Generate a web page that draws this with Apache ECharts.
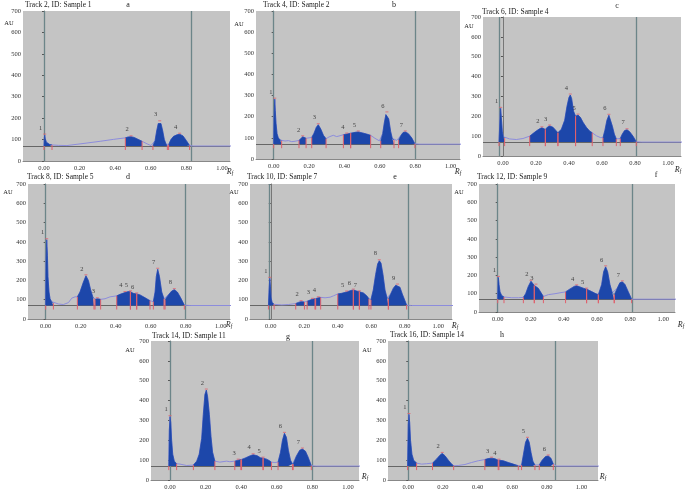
<!DOCTYPE html>
<html><head><meta charset="utf-8">
<script src="https://cdn.jsdelivr.net/npm/echarts@6/dist/echarts.min.js"></script>
<style>html,body{margin:0;padding:0;background:#fff}#c{width:688px;height:493px}</style>
</head><body><div id="c"></div>
<script>
// ---------- DATA ----------
const rfTicks = [0, 0.2, 0.4, 0.6, 0.8, 1.0];
const titles = ['Track 2, ID: Sample 1','Track 4, ID: Sample 2','Track 6, ID: Sample 4','Track 8, ID: Sample 5','Track 10, ID: Sample 7','Track 12, ID: Sample 9','Track 14, ID: Sample 11','Track 16, ID: Sample 14'];
const letters = ['a','b','c','d','e','f','g','h'];
const baselineAU = 70;

const profA = [[0,70],[0.002,110],[0.004,121],[0.007,105],[0.013,88],[0.022,80],[0.032,77],[0.045,75],[0.082,73],[0.129,72],[0.185,78],[0.242,84],[0.316,92],[0.391,101],[0.457,108],[0.472,112],[0.489,113],[0.506,110],[0.524,103],[0.551,92],[0.579,80],[0.601,72],[0.612,72],[0.624,95],[0.633,140],[0.642,175],[0.65,183],[0.657,175],[0.667,140],[0.676,100],[0.685,80],[0.693,72],[0.7,76],[0.713,100],[0.728,115],[0.747,122],[0.762,125],[0.781,117],[0.8,95],[0.818,72],[0.841,70],[1.1,70]];
const peaksA = [[0,0.045],[0.457,0.551],[0.612,0.693],[0.7,0.818]];
const labelsA = [[0.004,121,'1'],[0.489,113,'2'],[0.65,183,'3'],[0.762,125,'4']];
const markersA = [0, 0.826];

const profB = [[0,70],[0.002,200],[0.006,283],[0.009,230],[0.013,170],[0.019,120],[0.026,100],[0.036,90],[0.045,86],[0.064,85],[0.083,87],[0.102,82],[0.121,84],[0.143,88],[0.153,95],[0.164,105],[0.173,102],[0.183,98],[0.2,100],[0.215,102],[0.228,122],[0.241,150],[0.252,162],[0.266,142],[0.281,112],[0.296,96],[0.314,105],[0.337,112],[0.356,106],[0.375,110],[0.394,115],[0.413,118],[0.435,122],[0.46,126],[0.478,128],[0.503,123],[0.525,118],[0.548,112],[0.572,98],[0.597,86],[0.605,86],[0.616,120],[0.625,170],[0.634,210],[0.64,218],[0.65,190],[0.661,130],[0.67,98],[0.68,90],[0.695,88],[0.706,90],[0.718,110],[0.731,125],[0.744,128],[0.761,120],[0.78,100],[0.798,72],[0.827,70],[1.1,70]];
const peaksB = [[0,0.045],[0.143,0.183],[0.215,0.296],[0.394,0.435],[0.435,0.548],[0.605,0.68],[0.706,0.798]];
const labelsB = [[0.006,283,'1'],[0.164,105,'2'],[0.252,162,'3'],[0.413,118,'4'],[0.478,128,'5'],[0.64,218,'6'],[0.744,128,'7']];
const markersB = [0, 0.804];

const profC = [[-0.024,70],[-0.02,150],[-0.016,225],[-0.014,240],[-0.01,195],[-0.004,125],[0.002,97],[0.01,90],[0.04,86],[0.081,83],[0.121,88],[0.162,100],[0.182,113],[0.202,126],[0.222,137],[0.236,142],[0.257,134],[0.269,145],[0.283,151],[0.303,145],[0.319,130],[0.333,117],[0.354,135],[0.374,180],[0.388,250],[0.4,295],[0.408,307],[0.416,290],[0.428,225],[0.44,200],[0.455,206],[0.469,195],[0.485,170],[0.505,145],[0.525,126],[0.541,117],[0.566,102],[0.59,93],[0.606,92],[0.618,130],[0.63,180],[0.642,205],[0.651,200],[0.663,150],[0.675,110],[0.687,86],[0.699,84],[0.711,88],[0.723,110],[0.737,128],[0.752,132],[0.768,122],[0.788,100],[0.808,72],[0.838,70],[1.1,70]];
const peaksC = [[-0.024,0.01],[0.162,0.257],[0.257,0.333],[0.333,0.44],[0.44,0.541],[0.606,0.687],[0.711,0.808]];
const labelsC = [[-0.014,240,'1'],[0.236,142,'2'],[0.283,151,'3'],[0.408,307,'4'],[0.455,206,'5'],[0.642,205,'6'],[0.752,132,'7']];
const markersC = [-0.02, 0.814];

const profD = [[0,70],[0.002,300],[0.006,411],[0.01,330],[0.013,220],[0.019,140],[0.025,105],[0.034,90],[0.044,82],[0.072,78],[0.101,75],[0.13,85],[0.149,108],[0.168,115],[0.181,115],[0.196,140],[0.215,190],[0.23,224],[0.244,200],[0.257,150],[0.269,115],[0.276,105],[0.282,102],[0.295,105],[0.314,102],[0.339,105],[0.368,115],[0.406,120],[0.425,128],[0.453,137],[0.472,142],[0.484,141],[0.5,133],[0.52,130],[0.539,125],[0.568,110],[0.596,95],[0.615,90],[0.625,140],[0.632,220],[0.64,258],[0.65,220],[0.663,140],[0.676,105],[0.682,100],[0.701,125],[0.72,145],[0.735,152],[0.752,140],[0.771,110],[0.792,72],[0.825,70],[1.1,70]];
const peaksD = [[0,0.044],[0.181,0.276],[0.282,0.314],[0.406,0.484],[0.484,0.52],[0.52,0.596],[0.615,0.676],[0.682,0.792]];
const labelsD = [[0.006,411,'1'],[0.23,224,'2'],[0.295,105,'3'],[0.453,137,'4'],[0.484,141,'5'],[0.52,130,'6'],[0.64,258,'7'],[0.735,152,'8']];
const markersD = [0, 0.796];

const profE = [[-0.014,70],[-0.01,150],[-0.006,211],[-0.002,170],[0.002,110],[0.008,85],[0.02,76],[0.066,73],[0.105,75],[0.149,80],[0.165,86],[0.181,90],[0.201,88],[0.217,92],[0.235,98],[0.249,102],[0.264,105],[0.268,105],[0.284,110],[0.298,112],[0.324,110],[0.354,113],[0.374,120],[0.4,130],[0.423,133],[0.453,140],[0.479,148],[0.493,150],[0.513,145],[0.529,141],[0.553,135],[0.573,120],[0.586,105],[0.598,100],[0.612,150],[0.626,230],[0.638,285],[0.648,302],[0.658,290],[0.67,230],[0.682,150],[0.694,110],[0.702,105],[0.716,130],[0.732,160],[0.746,175],[0.757,176],[0.771,165],[0.785,130],[0.801,95],[0.811,72],[0.841,70],[1.1,70]];
const peaksE = [[-0.014,0.02],[0.149,0.201],[0.217,0.264],[0.268,0.298],[0.4,0.493],[0.493,0.529],[0.529,0.586],[0.598,0.702],[0.702,0.811]];
const labelsE = [[-0.006,211,'1'],[0.181,90,'2'],[0.249,102,'3'],[0.284,110,'4'],[0.453,140,'5'],[0.493,150,'6'],[0.529,141,'7'],[0.648,302,'8'],[0.757,176,'9']];
const markersE = [-0.014, 0.817];

const profF = [[0,70],[0.002,160],[0.004,189],[0.008,150],[0.014,110],[0.024,90],[0.038,82],[0.085,78],[0.125,78],[0.155,80],[0.169,100],[0.185,140],[0.201,168],[0.211,165],[0.221,145],[0.231,147],[0.245,130],[0.262,105],[0.276,85],[0.306,95],[0.346,100],[0.376,105],[0.41,110],[0.435,125],[0.462,140],[0.477,143],[0.497,137],[0.517,130],[0.537,125],[0.567,112],[0.588,102],[0.608,95],[0.628,150],[0.64,220],[0.652,247],[0.664,220],[0.678,150],[0.692,105],[0.704,95],[0.722,130],[0.738,160],[0.753,165],[0.769,150],[0.789,110],[0.809,70],[1.1,70]];
const peaksF = [[0,0.038],[0.155,0.221],[0.221,0.276],[0.41,0.537],[0.537,0.608],[0.608,0.704],[0.704,0.809]];
const labelsF = [[0.004,189,'1'],[0.201,168,'2'],[0.231,147,'3'],[0.477,143,'4'],[0.537,125,'5'],[0.652,247,'6'],[0.753,165,'7']];
const markersF = [0, 0.809];

const profG = [[-0.007,70],[-0.004,250],[0,319],[0.004,290],[0.009,200],[0.015,130],[0.024,95],[0.037,82],[0.056,80],[0.093,73],[0.131,75],[0.15,95],[0.164,130],[0.178,210],[0.187,330],[0.196,430],[0.204,453],[0.211,420],[0.221,330],[0.23,220],[0.239,140],[0.252,95],[0.28,90],[0.318,95],[0.336,92],[0.364,95],[0.383,100],[0.398,103],[0.402,103],[0.421,110],[0.445,120],[0.467,127],[0.49,122],[0.508,112],[0.523,110],[0.542,105],[0.557,98],[0.57,90],[0.589,88],[0.607,90],[0.621,140],[0.632,200],[0.643,235],[0.654,215],[0.665,150],[0.677,100],[0.688,80],[0.692,80],[0.71,120],[0.729,150],[0.744,156],[0.761,145],[0.776,115],[0.794,72],[0.822,70],[1.1,70]];
const peaksG = [[-0.007,0.037],[0.131,0.252],[0.364,0.398],[0.402,0.523],[0.523,0.57],[0.607,0.688],[0.692,0.794]];
const labelsG = [[0,319,'1'],[0.204,453,'2'],[0.383,100,'3'],[0.467,127,'4'],[0.523,110,'5'],[0.643,235,'6'],[0.744,156,'7']];
const markersG = [-0.004, 0.798];

const profH = [[-0.004,70],[0,280],[0.004,330],[0.008,290],[0.013,200],[0.021,130],[0.031,100],[0.038,90],[0.048,85],[0.077,80],[0.106,82],[0.14,85],[0.163,105],[0.183,125],[0.196,134],[0.212,122],[0.231,100],[0.25,80],[0.262,72],[0.288,73],[0.327,78],[0.365,88],[0.404,97],[0.442,103],[0.462,108],[0.481,110],[0.5,107],[0.519,100],[0.523,100],[0.548,97],[0.577,88],[0.606,80],[0.635,72],[0.654,75],[0.665,130],[0.677,190],[0.688,210],[0.698,190],[0.708,140],[0.719,95],[0.731,75],[0.756,76],[0.773,100],[0.792,118],[0.808,121],[0.823,110],[0.837,80],[0.856,70],[1.1,70]];
const peaksH = [[-0.004,0.048],[0.14,0.262],[0.442,0.519],[0.523,0.635],[0.654,0.731],[0.756,0.837]];
const labelsH = [[0.004,330,'1'],[0.196,134,'2'],[0.481,110,'3'],[0.523,100,'4'],[0.688,210,'5'],[0.808,121,'6']];
const markersH = [-0.004, 0.846];

// ---------- LAYOUT ----------
const layout = [
  {left:23, top:11, width:207, height:150, xmin:-0.118, xmax:1.045, title:[25,5], letter:[128,5], au:[9,23], rf:[230,172]},
  {left:256, top:11, width:204, height:148, xmin:-0.1, xmax:1.053, title:[263,5], letter:[394,5], au:[239,24], rf:[458,172]},
  {left:483, top:17, width:198, height:139, xmin:-0.121, xmax:1.079, title:[482,12], letter:[617,6], au:[469,26], rf:[678,170]},
  {left:28, top:184, width:202, height:135, xmin:-0.101, xmax:1.053, title:[27,177], letter:[128,177], au:[8,192], rf:[229,325]},
  {left:250, top:184, width:202, height:135, xmin:-0.124, xmax:1.082, title:[247,177], letter:[395,177], au:[234,192], rf:[455,326]},
  {left:479, top:184, width:196, height:128, xmin:-0.113, xmax:1.071, title:[477,177], letter:[656,175], au:[459,192], rf:[681,325]},
  {left:151, top:341, width:208, height:139, xmin:-0.107, xmax:1.062, title:[152,336], letter:[288,337], au:[130,350], rf:[365,477]},
  {left:388, top:341, width:210, height:139, xmin:-0.117, xmax:1.095, title:[390,335], letter:[502,335], au:[367,350], rf:[603,477]}
];
const panels = [
  [profA,peaksA,labelsA,markersA],[profB,peaksB,labelsB,markersB],[profC,peaksC,labelsC,markersC],[profD,peaksD,labelsD,markersD],
  [profE,peaksE,labelsE,markersE],[profF,peaksF,labelsF,markersF],[profG,peaksG,labelsG,markersG],[profH,peaksH,labelsH,markersH]
];

const SERIF = '"Liberation Serif", "DejaVu Serif", serif';
const FILL = '#1d47aa';
const RED = '#e0606c';

function yAt(prof, x) {
  for (const p of prof) if (Math.abs(p[0] - x) < 1e-9) return p[1];
  return baselineAU;
}
function fillData(prof, peaks) {
  const out = [];
  peaks.forEach((pk, k) => {
    if (k > 0) out.push([pk[0], '-']);
    prof.forEach(p => { if (p[0] >= pk[0] - 1e-9 && p[0] <= pk[1] + 1e-9) out.push(p); });
  });
  return out;
}

const grid = [], xAxis = [], yAxis = [], series = [], graphic = [];
panels.forEach((pn, i) => {
  const [prof, peaks, labels, markers] = pn;
  const L = layout[i];
  grid.push({left:L.left, top:L.top, width:L.width, height:L.height, show:true, backgroundColor:'#c4c4c4', borderWidth:0, containLabel:false});
  xAxis.push({type:'value', gridIndex:i, min:L.xmin, max:L.xmax,
    splitLine:{show:false},
    axisLine:{show:true, onZero:false, lineStyle:{color:'#888', width:1}},
    axisTick:{show:false},
    axisLabel:{customValues:rfTicks, formatter:v=>v.toFixed(2), fontSize:6.5, fontFamily:SERIF, color:'#333', margin:4}
  });
  yAxis.push({type:'value', gridIndex:i, min:0, max:700, interval:100,
    splitLine:{show:false},
    axisLine:{show:true, lineStyle:{color:'#777', width:1}},
    axisTick:{show:true, length:2, lineStyle:{color:'#555'}},
    axisLabel:{fontSize:6.5, fontFamily:SERIF, color:'#333', margin:2}
  });
  series.push({type:'line', xAxisIndex:i, yAxisIndex:i, data:prof, showSymbol:false, symbol:'none',
    lineStyle:{color:'#8c8cdc', width:1}, z:3, silent:true,
    markLine:{silent:true, symbol:'none', label:{show:false}, z:2,
      data:[
        {yAxis:baselineAU, lineStyle:{color:'#666', width:1, type:'solid'}},
        {xAxis:markers[0], lineStyle:{color:'#6c8589', width:1.3, type:'solid'}},
        {xAxis:markers[1], lineStyle:{color:'#6c8589', width:1.3, type:'solid'}}
      ]}
  });
  series.push({type:'line', xAxisIndex:i, yAxisIndex:i, data:fillData(prof, peaks), showSymbol:false, symbol:'none',
    connectNulls:false, lineStyle:{color:FILL, width:0.6}, areaStyle:{color:FILL, opacity:1, origin:baselineAU}, z:4, silent:true});
  const bounds = [];
  peaks.forEach(pk => { bounds.push([pk[0], yAt(prof, pk[0])]); bounds.push([pk[1], yAt(prof, pk[1])]); });
  series.push({type:'custom', xAxisIndex:i, yAxisIndex:i, data:bounds, z:5, silent:true,
    renderItem:(params, api) => {
      const x = api.value(0), y = api.value(1);
      const p0 = api.coord([x, baselineAU]);
      const p1 = api.coord([x, y]);
      return {type:'line', shape:{x1:p0[0], y1:p0[1]+4, x2:p1[0], y2:p1[1]}, style:{stroke:RED, lineWidth:1}};
    }
  });
  series.push({type:'scatter', xAxisIndex:i, yAxisIndex:i, data:labels, z:6, silent:true,
    symbol:'rect', symbolSize:[3,1], itemStyle:{color:RED}, symbolOffset:[0,-1],
    label:{show:true, position:'top', distance:2, offset:[-4,0], formatter:p=>p.data[2], fontSize:6.5, fontFamily:SERIF, color:'#222'}
  });
  graphic.push({type:'text', x:L.title[0], y:L.title[1], style:{text:titles[i], font:'7.5px ' + SERIF, fill:'#222', textVerticalAlign:'middle'}});
  graphic.push({type:'text', x:L.letter[0], y:L.letter[1], style:{text:letters[i], font:'8px ' + SERIF, fill:'#222', textAlign:'center', textVerticalAlign:'middle'}});
  graphic.push({type:'text', x:L.au[0], y:L.au[1], style:{text:'AU', font:'6.5px ' + SERIF, fill:'#222', textAlign:'center', textVerticalAlign:'middle'}});
  graphic.push({type:'text', x:L.rf[0], y:L.rf[1], style:{text:'{r|R}{s|f}', textAlign:'center', textVerticalAlign:'middle',
    rich:{r:{font:'italic 8px ' + SERIF, fill:'#222'}, s:{font:'italic 5.5px ' + SERIF, fill:'#222', padding:[4,0,0,0]}}}});
});

const chart = echarts.init(document.getElementById('c'), null, {renderer:'canvas'});
chart.setOption({animation:false, backgroundColor:'#ffffff', grid, xAxis, yAxis, series, graphic});
</script>
</body></html>
